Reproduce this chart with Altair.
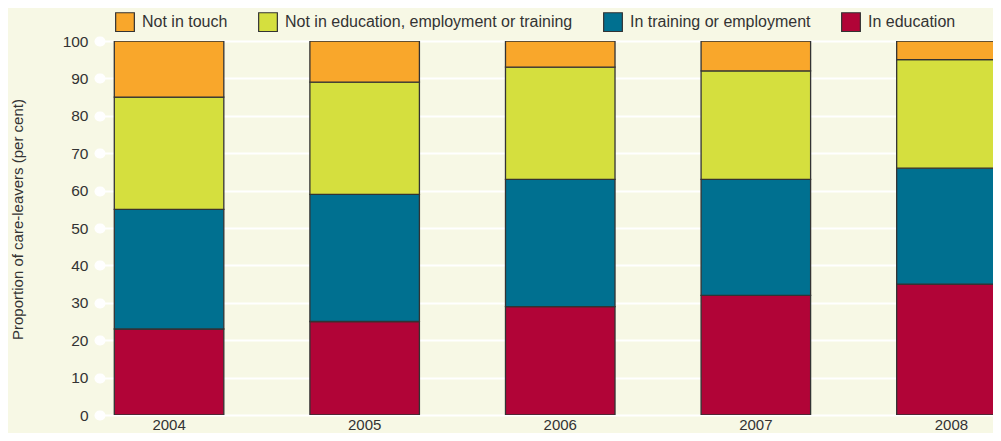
import altair as alt
import pandas as pd

years = ["2004", "2005", "2006", "2007", "2008"]
categories = [
    "Not in touch",
    "Not in education, employment or training",
    "In training or employment",
    "In education",
]
in_education = [23, 25, 29, 32, 35]
in_training = [32, 34, 34, 31, 31]
neet = [30, 30, 30, 29, 29]
not_in_touch = [15, 11, 7, 8, 5]
colors = ["#f9a72b", "#d5df3e", "#007090", "#b10437"]
y_ticks = [0, 10, 20, 30, 40, 50, 60, 70, 80, 90, 100]

series = {
    "In education": in_education,
    "In training or employment": in_training,
    "Not in education, employment or training": neet,
    "Not in touch": not_in_touch,
}
stack_order = {
    "In education": 0,
    "In training or employment": 1,
    "Not in education, employment or training": 2,
    "Not in touch": 3,
}
rows = []
for cat, vals in series.items():
    for yr, v in zip(years, vals):
        rows.append({"year": yr, "category": cat, "value": v, "order": stack_order[cat]})
df = pd.DataFrame(rows)

FONT = "Liberation Sans, Arial, Helvetica, sans-serif"
TXT = "#333333"

chart = (
    alt.Chart(df)
    .mark_bar(stroke="#333333", strokeWidth=1.3, clip=True)
    .encode(
        x=alt.X(
            "year:N",
            sort=years,
            scale=alt.Scale(range=[0, 920.5], paddingInner=0.44, paddingOuter=0.0731),
            axis=alt.Axis(
                title=None,
                labelAngle=0,
                ticks=False,
                domain=False,
                labelPadding=2,
                labelFontSize=15,
                labelColor=TXT,
                labelFont=FONT,
            ),
        ),
        y=alt.Y(
            "value:Q",
            stack="zero",
            scale=alt.Scale(domain=[0, 100], nice=False),
            axis=alt.Axis(
                title="Proportion of care-leavers (per cent)",
                values=y_ticks,
                domain=False,
                grid=True,
                gridColor="#ffffff",
                gridWidth=2,
                gridOpacity=1,
                ticks=True,
                tickColor="#ffffff",
                tickWidth=10,
                tickSize=1,
                tickCap="round",
                tickOpacity=1,
                labelPadding=11,
                labelFontSize=15.5,
                labelColor=TXT,
                labelFont=FONT,
                titleFont=FONT,
                titleFontSize=15,
                titleFontWeight="normal",
                titleColor=TXT,
                titleX=-75,
                titleY=178,
                titleAlign="center",
                titleBaseline="bottom",
                titleAngle=270,
            ),
        ),
        color=alt.Color(
            "category:N",
            scale=alt.Scale(domain=categories, range=colors),
            legend=alt.Legend(
                title=None,
                orient="none",
                legendX=15,
                legendY=-29,
                direction="horizontal",
                symbolType="square",
                symbolSize=350,
                symbolStrokeColor="#333333",
                symbolStrokeWidth=1.2,
                symbolOpacity=1,
                labelFontSize=16,
                labelFont=FONT,
                labelColor=TXT,
                labelOffset=7,
                labelLimit=500,
                columnPadding=28,
                padding=0,
            ),
        ),
        order=alt.Order("order:Q", sort="ascending"),
    )
    .properties(
        width=893,
        height=374,
        autosize=alt.AutoSizeParams(type="none"),
        padding={"left": 92, "top": 33, "right": 0, "bottom": 18},
        background="#f7f8e5",
    )
    .configure_view(stroke=None)
)

chart.save("out.html", embed_options={"renderer": "svg", "actions": False})
